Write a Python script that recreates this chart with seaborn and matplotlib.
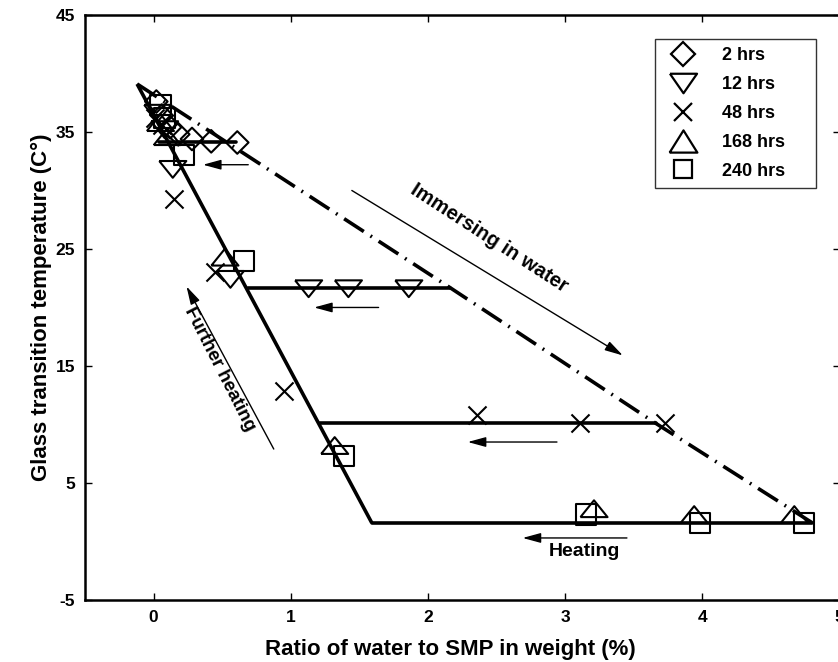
import matplotlib
matplotlib.use('Agg')
import matplotlib.pyplot as plt
from matplotlib.path import Path
from matplotlib.lines import Line2D
import seaborn as sns

# marker data (x = water ratio %, y = Tg in C)
t2_x = [0.02, 0.06, 0.12, 0.18, 0.28, 0.42, 0.61]
t2_y = [37.6, 36.4, 35.4, 34.8, 34.4, 34.2, 34.1]

t12_x = [0.03, 0.08, 0.14, 0.56, 1.13, 1.42, 1.86]
t12_y = [36.6, 35.2, 31.8, 22.4, 21.6, 21.6, 21.6]

t48_x = [0.01, 0.06, 0.15, 0.45, 0.95, 2.36, 3.11, 3.73]
t48_y = [36.2, 35.6, 29.3, 23.0, 12.9, 10.8, 10.1, 10.1]

t168_x = [0.05, 0.10, 0.52, 1.32, 3.21, 3.94, 4.67]
t168_y = [35.8, 34.6, 24.3, 8.2, 2.8, 2.3, 2.3]

t240_x = [0.05, 0.08, 0.22, 0.66, 1.39, 3.15, 3.98, 4.74]
t240_y = [37.3, 36.2, 33.0, 24.0, 7.3, 2.3, 1.6, 1.6]

labels = ['2 hrs', '12 hrs', '48 hrs', '168 hrs', '240 hrs']

# heating path (solid) and immersion path (dash-dot)
heat_x = [-0.12, 1.59]
heat_y = [39.1, 1.6]
branch_y = [34.1, 21.7, 10.1, 1.6]
branch_x0 = [0.04, 0.69, 1.21, 1.59]
branch_x1 = [0.60, 2.16, 3.66, 4.80]
imm_x = [-0.12, 2.16, 3.66, 4.80]
imm_y = [39.1, 21.7, 10.1, 1.6]

sns.set_style('ticks')
plt.rcParams['font.family'] = ['Liberation Sans', 'DejaVu Sans']
plt.rcParams['font.weight'] = 'bold'
plt.rcParams['axes.unicode_minus'] = False
for k in ['text.color', 'axes.labelcolor', 'xtick.color', 'ytick.color',
          'xtick.labelcolor', 'ytick.labelcolor', 'axes.edgecolor']:
    plt.rcParams[k] = 'black'

fig = plt.figure(figsize=(8.38, 6.62), dpi=100)
ax = fig.add_axes([0.1014, 0.0937, 0.9005, 0.8837])

# wide flat triangles like the original
tri_down = Path([(-1, 0.62), (1, 0.62), (0, -0.62), (-1, 0.62)])
tri_up = Path([(-1, -0.62), (1, -0.62), (0, 0.62), (-1, -0.62)])
leg_up = Path([(-1, -0.8), (1, -0.8), (0, 0.8), (-1, -0.8)])
leg_down = Path([(-1, 0.72), (1, 0.72), (0, -0.72), (-1, 0.72)])

ax.plot(heat_x, heat_y, color='k', lw=2.6, solid_capstyle='butt')
for y0, xa, xb in zip(branch_y, branch_x0, branch_x1):
    ax.plot([xa, xb], [y0, y0], color='k', lw=2.6)
ax.plot(imm_x, imm_y, color='k', lw=2.6, linestyle=(0, (6.5, 2.2, 0.5, 2.2)))

series = [(t2_x, t2_y, 'D', 11.5), (t12_x, t12_y, tri_down, 19.5),
          (t48_x, t48_y, 'x', 13), (t168_x, t168_y, tri_up, 19.5),
          (t240_x, t240_y, 's', 14.5)]
leg_marks = [('D', 12.5), (leg_down, 19.5), ('x', 13), (leg_up, 20), ('s', 13.5)]
handles = []
for (xs, ys, m, ms), (lm, lms), lab in zip(series, leg_marks, labels):
    if m == 'x':
        sns.scatterplot(x=xs, y=ys, marker=m, s=ms ** 2, color='k',
                        linewidth=1.5, ax=ax, zorder=3)
    else:
        sns.scatterplot(x=xs, y=ys, marker=m, s=ms ** 2, facecolors='none',
                        edgecolor='k', linewidth=1.5, ax=ax, zorder=3)
    handles.append(Line2D([], [], linestyle='none', marker=lm, markersize=lms,
                          markerfacecolor='none', markeredgecolor='k',
                          markeredgewidth=1.6, color='k', label=lab))

leg = ax.legend(handles=handles, loc='upper left',
                bbox_to_anchor=(0.755, 0.5, 0.2134, 0.459), mode='expand',
                borderaxespad=0, frameon=True, fancybox=False, edgecolor='k',
                borderpad=0.45, labelspacing=0.66, handlelength=2.2,
                handletextpad=1.05, prop={'weight': 'bold', 'size': 13})
leg.get_frame().set_linewidth(1.0)

# annotation arrows
arrow = dict(arrowstyle='-|>,head_length=1.1,head_width=0.3', color='k', lw=1,
             shrinkA=0, shrinkB=0)
for xt, xh, ya in zip([0.69, 1.64, 2.94], [0.36, 1.17, 2.29], [32.2, 20.0, 8.5]):
    ax.annotate('', xy=(xh, ya), xytext=(xt, ya), arrowprops=arrow)
ax.annotate('', xy=(2.69, 0.3), xytext=(3.45, 0.3), arrowprops=arrow)
ax.text(3.14, -0.9, 'Heating', ha='center', va='center', fontsize=14, fontweight='bold')
ax.annotate('', xy=(3.42, 15.9), xytext=(1.445, 30.0), arrowprops=arrow)
ax.text(2.445, 25.9, 'Immersing in water', ha='center', va='center', rotation=-33,
        fontsize=14.5, fontweight='bold', rotation_mode='anchor')
ax.annotate('', xy=(0.24, 21.8), xytext=(0.876, 7.9), arrowprops=arrow)
ax.text(0.48, 14.7, 'Further heating', ha='center', va='center', rotation=-63,
        fontsize=13.5, fontweight='bold', rotation_mode='anchor')

ax.set_xlim(-0.5, 5.0)
ax.set_ylim(-5, 45)
ax.set_xticks([0, 1, 2, 3, 4, 5])
ax.set_yticks([-5, 5, 15, 25, 35, 45])
ax.tick_params(direction='in', length=5, width=1, top=True, right=True,
               labelsize=12.5, pad=7)
for t in ax.get_xticklabels() + ax.get_yticklabels():
    t.set_fontweight('bold')
for sp in ax.spines.values():
    sp.set_linewidth(1.8)
    sp.set_color('k')

ax.set_xlabel('Ratio of water to SMP in weight (%)', fontsize=16, fontweight='bold',
              labelpad=10, x=0.484)
ax.set_ylabel('Glass transition temperature (C°)', fontsize=16, fontweight='bold', labelpad=3)

fig.savefig('out.png', dpi=100)
